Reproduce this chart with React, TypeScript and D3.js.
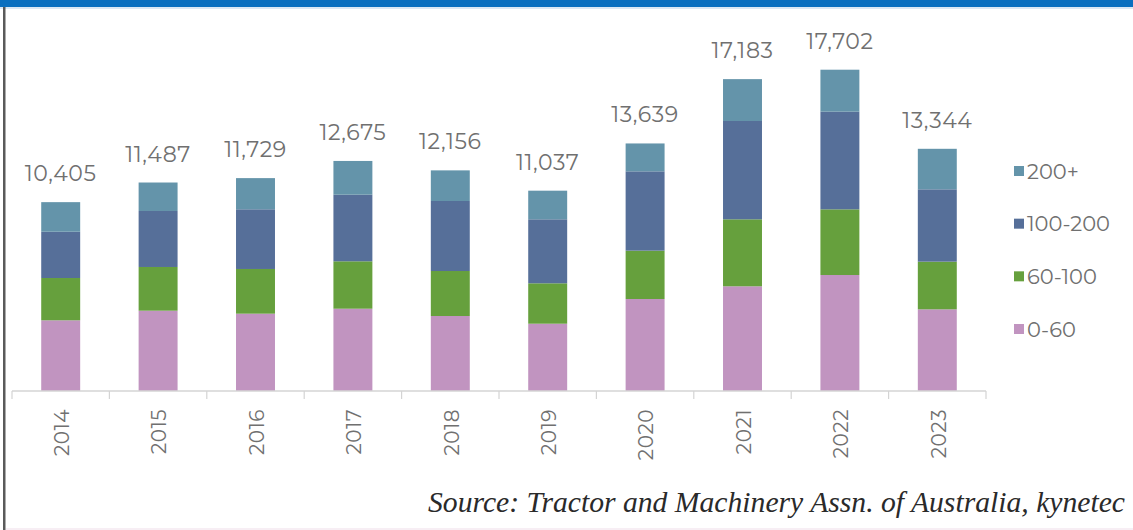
import React from "react";
import * as d3 from "d3";

const years = ["2014", "2015", "2016", "2017", "2018", "2019", "2020", "2021", "2022", "2023"];
const totals = [10405, 11487, 11729, 12675, 12156, 11037, 13639, 17183, 17702, 13344];
const hp0to60 = [3895, 4425, 4260, 4534, 4132, 3708, 5069, 5768, 6391, 4500];
const hp60to100 = [2330, 2408, 2463, 2612, 2479, 2226, 2663, 3691, 3618, 2626];
const hp100to200 = [2551, 3085, 3289, 3669, 3857, 3526, 4370, 5417, 5381, 3986];
const hp200plus = [1629, 1569, 1717, 1860, 1688, 1577, 1537, 2307, 2312, 2232];
const seriesKeys = ["0-60", "60-100", "100-200", "200+"];
const seriesColors = ["#c194c0", "#66a03d", "#566f99", "#6494aa"];
const legendOrder = ["200+", "100-200", "60-100", "0-60"];
const sourceText = "Source: Tractor and Machinery Assn. of Australia, kynetec";

const W = 1133;
const H = 530;

export default function App() {
  const rows = years.map((y, i) => ({
    year: y,
    "0-60": hp0to60[i],
    "60-100": hp60to100[i],
    "100-200": hp100to200[i],
    "200+": hp200plus[i],
  }));
  const stacked = d3.stack<any>().keys(seriesKeys)(rows);
  const x = d3.scaleBand().domain(years).range([12, 986]).paddingInner(0.6).paddingOuter(0.3);
  const step = x.step();
  const y = d3.scaleLinear().domain([0, 20000]).range([391, 28]);
  const color = d3.scaleOrdinal<string, string>().domain(seriesKeys).range(seriesColors);
  const legendY = d3.scalePoint().domain(legendOrder).range([171, 329]);
  const labelFont = "'Montserrat', 'Open Sans', 'Noto Sans', sans-serif";

  return (
    <svg
      width={W}
      height={H}
      style={{ position: "absolute", left: 0, top: 0, background: "#fff" }}
    >
      <rect x={0} y={0} width={W} height={H} fill="#fff" />
      <rect x={0} y={0} width={W} height={7} fill="#0a6fbf" />
      <rect x={0} y={7} width={W} height={2} fill="#dce8f4" />
      <rect x={3} y={7} width={2.5} height={H - 7} fill="#5a5a5a" />
      <rect x={6} y={H - 2} width={W - 6} height={2} fill="#f7eef4" />

      {stacked.map((s) => (
        <g key={s.key} fill={color(s.key)}>
          {s.map((d: any) => (
            <rect
              key={d.data.year}
              x={x(d.data.year)}
              y={y(d[1])}
              width={x.bandwidth()}
              height={y(d[0]) - y(d[1])}
            />
          ))}
        </g>
      ))}

      <line x1={12} x2={12 + step * years.length} y1={391} y2={391} stroke="#d4d4d4" strokeWidth={1.5} />
      {d3.range(years.length + 1).map((i) => (
        <line
          key={i}
          x1={12 + step * i}
          x2={12 + step * i}
          y1={391}
          y2={399}
          stroke="#d4d4d4"
          strokeWidth={1.2}
        />
      ))}

      {years.map((yr, i) => {
        const cx = (x(yr) as number) + x.bandwidth() / 2;
        return (
          <g key={yr}>
            <text
              x={cx}
              y={y(totals[i]) - 21}
              textAnchor="middle"
              fontFamily={labelFont}
              fontSize={22}
              letterSpacing={0.6}
              fill="#707070"
            >
              {d3.format(",")(totals[i])}
            </text>
            <text
              transform={`translate(${cx + 1},409) rotate(-90)`}
              textAnchor="end"
              dy="0.36em"
              fontFamily={labelFont}
              fontSize={20}
              letterSpacing={0.5}
              fill="#707070"
            >
              {yr}
            </text>
          </g>
        );
      })}

      {legendOrder.map((k) => (
        <g key={k} transform={`translate(1014,${legendY(k)})`}>
          <rect x={0} y={-5} width={10} height={10} fill={color(k)} />
          <text x={13} y={0} dy="0.36em" fontFamily={labelFont} fontSize={21} fill="#707070">
            {k}
          </text>
        </g>
      ))}

      <text
        x={1125}
        y={512}
        textAnchor="end"
        fontFamily="'Liberation Serif', 'DejaVu Serif', serif"
        fontStyle="italic"
        fontSize={29}
        textLength={697}
        lengthAdjust="spacingAndGlyphs"
        fill="#2a2a2a"
      >
        {sourceText}
      </text>
    </svg>
  );
}
